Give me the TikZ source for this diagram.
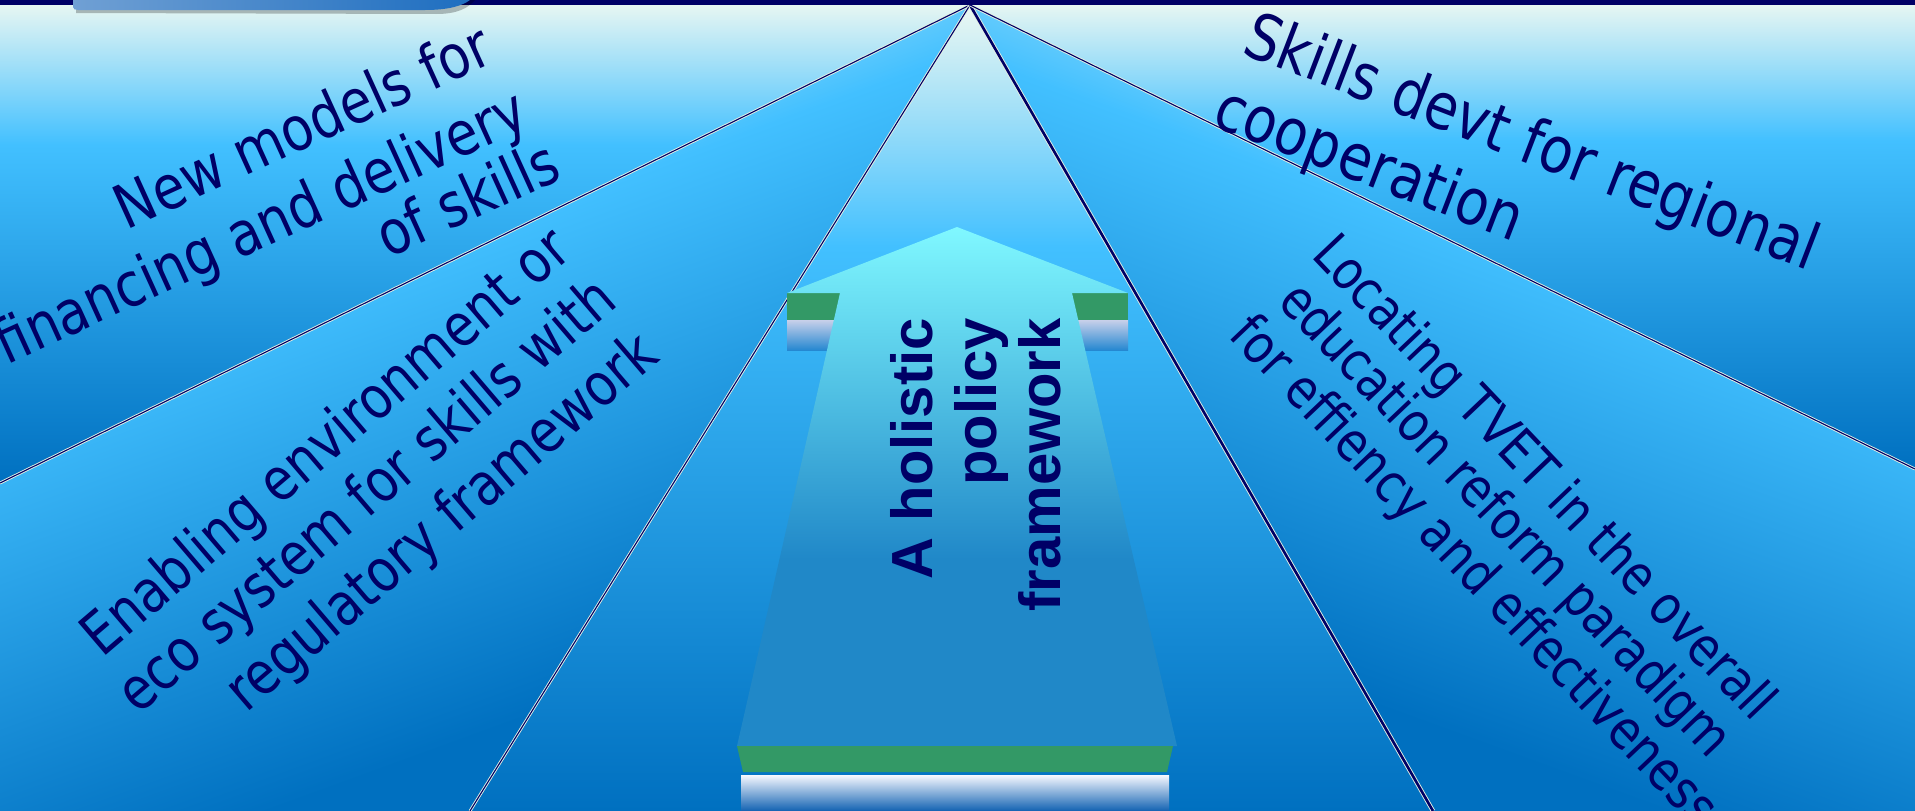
\documentclass[tikz,border=0pt]{standalone}
\usepackage{fontspec}
\setmainfont{DejaVu Sans}
\newfontfamily\slimsans[FakeStretch=0.85]{DejaVu Sans}
\newfontfamily\plaquesans{Liberation Sans}
\usetikzlibrary{positioning}
\definecolor{SeaPale}{RGB}{236,248,242}
\definecolor{SeaMid}{RGB}{66,192,255}
\definecolor{SeaDeep}{RGB}{0,112,192}
\definecolor{InkNavy}{RGB}{0,0,102}
\definecolor{LeafGreen}{RGB}{51,153,102}
\definecolor{ArrowCyan}{RGB}{128,248,255}
\definecolor{ArrowBlue}{RGB}{32,136,200}
\definecolor{RimCream}{RGB}{228,240,226}
\definecolor{GlowTop}{RGB}{246,248,255}
\definecolor{GlowLav}{RGB}{200,208,234}
\definecolor{GlowBlue}{RGB}{18,98,178}
\definecolor{TabLight}{RGB}{112,160,212}
\definecolor{TabDark}{RGB}{30,110,192}
\pgfdeclareverticalshading{sea}{100bp}{color(0bp)=(SeaDeep); color(25bp)=(SeaDeep); color(60bp)=(SeaMid); color(75bp)=(SeaPale); color(100bp)=(SeaPale)}
\pgfdeclareverticalshading{slantsea}{100bp}{color(0bp)=(SeaDeep); color(32bp)=(SeaDeep); color(60bp)=(SeaMid); color(75bp)=(SeaPale); color(100bp)=(SeaPale)}
\pgfdeclareverticalshading{arrowglow}{100bp}{color(0bp)=(ArrowBlue); color(43bp)=(ArrowBlue); color(75bp)=(ArrowCyan); color(100bp)=(ArrowCyan)}
\tikzset{
  sector/.style={shading=sea},
  slant sector/.style={shading=slantsea,shading angle=#1},
  ray/.style={draw=RimCream,double=InkNavy,double distance=1.1pt,line width=0.9pt},
  heavy ray/.style={ray,double distance=2.6pt},
  glow/.style={top color=GlowLav,bottom color=GlowBlue!60!SeaMid},
}
\tikzset{blurb/.style={text=InkNavy,inner sep=0pt,font=\slimsans\fontsize{59}{70}\selectfont}, wide blurb/.style={blurb,font=\slimsans\fontsize{61}{72}\selectfont}, big blurb/.style={blurb,font=\slimsans\fontsize{64}{76}\selectfont}, small blurb/.style={blurb,font=\slimsans\fontsize{54}{60}\selectfont}, plaque/.style={text=InkNavy,inner sep=0pt,font=\plaquesans\bfseries\fontsize{58}{66}\selectfont}}

\begin{document}
\begin{tikzpicture}[x=1pt,y=-1pt]
\useasboundingbox (0,0) rectangle (1915,811);
\clip (0,0) rectangle (1915,811);
\coordinate (hub) at (970,5);
\coordinate (westend) at (0,483);
\coordinate (southwest) at (470,811);
\coordinate (southeast) at (1433,811);
\coordinate (eastend) at (1915,469);
% five sectors round the hub
\shade[sector] (0,0) -- (970,0) -- (hub) -- (westend) -- cycle;
\shade[slant sector=20] (hub) -- (westend) -- (0,811) -- (southwest) -- cycle;
\shade[sector] (hub) -- (southwest) -- (southeast) -- cycle;
\shade[slant sector=-20] (hub) -- (eastend) -- (1915,811) -- (southeast) -- cycle;
\shade[sector] (970,0) -- (1915,0) -- (eastend) -- (hub) -- cycle;
\draw[ray] (hub) -- (westend);
\draw[ray] (hub) -- (southwest);
\draw[heavy ray] (hub) -- (southeast);
\draw[ray] (hub) -- (eastend);
% title bar and tab
\fill[InkNavy] (0,0) rectangle (1915,5);
\fill[black,opacity=0.25] (76,0) -- (76,13) -- (436,14) .. controls (458,14) and (468,8) .. (475,0) -- cycle;
\shade[left color=TabLight,right color=TabDark] (73,0) -- (73,7) .. controls (73,9) and (75,10) .. (78,10) -- (425,10) .. controls (448,10) and (462,6) .. (470,0) -- cycle;
% the arrow
\coordinate (tip) at (957,227);
\coordinate (headL) at (787,293);
\coordinate (headR) at (1128,293);
\coordinate (neckL) at (840,293);
\coordinate (neckR) at (1072,293);
\coordinate (footL) at (737,746);
\coordinate (footR) at (1177,746);
\fill[LeafGreen] (headL) rectangle (850,320);
\fill[LeafGreen] (1062,293) rectangle (headR |- 0,320);
\shade[glow] (787,320) rectangle (850,350);
\shade[glow] (1062,320) rectangle (1128,350);
\shade[shading=arrowglow] (tip) -- (headR) -- (neckR) -- (footR) -- (footL) -- (neckL) -- (headL) -- cycle;
\fill[LeafGreen] (footL) -- (1173,746) -- (1167,772) -- (743,772) -- cycle;
\shade[top color=GlowTop,bottom color=GlowBlue] (741,775) rectangle (1169,811);
% labels
\begin{scope}[rotate=24.5,transform shape]
\node[wide blurb,anchor=base east] (fin1) at (426,262) {New models for};
\node[wide blurb,anchor=base east] (fin2) at (432,335) {financing and delivery};
\node[wide blurb,anchor=base east] (fin3) at (440,396) {of skills};
\end{scope}
\begin{scope}[rotate=40.5,transform shape]
\node[blurb,anchor=base west] (env1) at (-350,567) {Enabling environment or};
\node[blurb,anchor=base west] (env2) at (-360,634) {eco system for skills with};
\node[blurb,anchor=base west] (env3) at (-276,703) {regulatory framework};
\end{scope}
\begin{scope}[rotate=-21,transform shape]
\node[big blurb,anchor=base west] (reg1) at (1177,-395) {Skills devt for regional};
\node[big blurb,anchor=base west] (reg2) at (1175,-317) {cooperation};
\end{scope}
\begin{scope}[rotate=-46.5,transform shape]
\node[small blurb,anchor=base west] (tvet1) at (1088,-774) {Locating TVET in the overall};
\node[small blurb,anchor=base west] (tvet2) at (1098,-717) {education reform paradigm};
\node[small blurb,anchor=base west] (tvet3) at (1089,-659) {for effiency and effectiveness};
\end{scope}
\begin{scope}[rotate=90,transform shape]
\node[plaque,anchor=base east] (pol1) at (-318,932) {A holistic};
\node[plaque,anchor=base east] (pol2) at (-318,996) {policy};
\node[plaque,anchor=base east] (pol3) at (-318,1060) {framework};
\end{scope}
\end{tikzpicture}
\end{document}
